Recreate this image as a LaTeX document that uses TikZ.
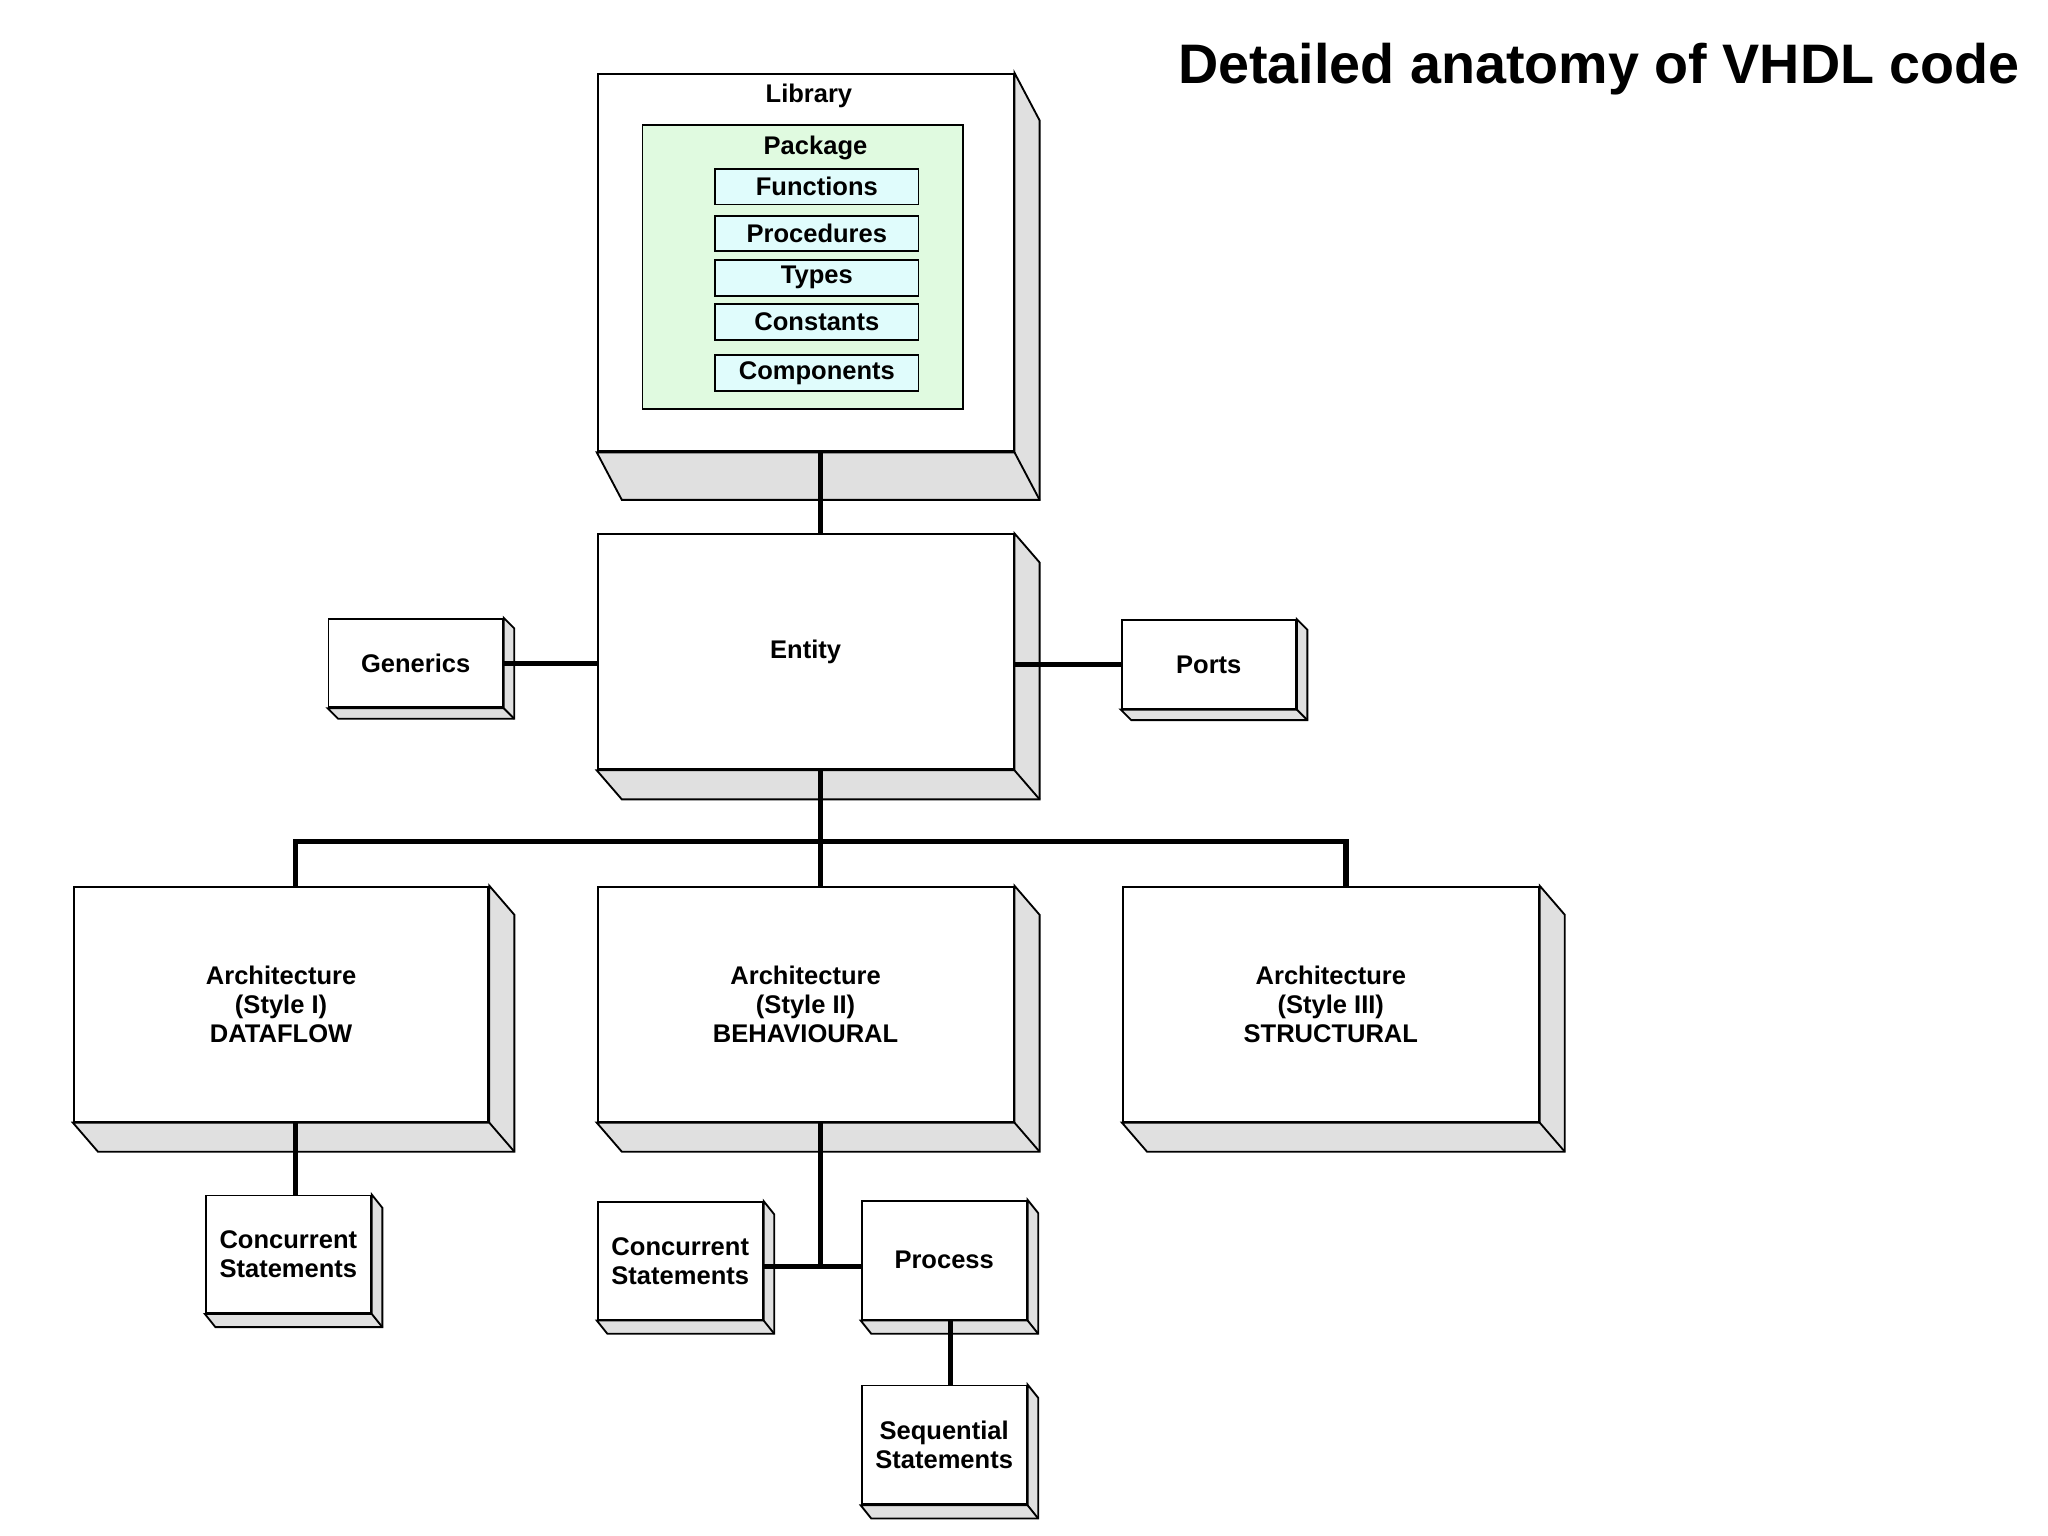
\documentclass[tikz,border=0pt]{standalone}
\usepackage{fontspec}
\setmainfont{Liberation Sans}
\usetikzlibrary{positioning}

\definecolor{sidegray}{RGB}{224,224,224}
\definecolor{pkggreen}{RGB}{224,250,224}
\definecolor{itemcyan}{RGB}{224,252,252}

% depth side of a block: node, dx, dy
\newcommand\blockside[3]{%
  \draw[fill=sidegray] (#1.north east) -- ([shift={(#2,#3)}]#1.north east)
    -- ([shift={(#2,#3)}]#1.south east) -- ([shift={(#2,#3)}]#1.south west)
    -- (#1.south west) -- (#1.south east) -- cycle;
  \draw (#1.south east) -- ([shift={(#2,#3)}]#1.south east);
}

\begin{document}
\begin{tikzpicture}[x=0.01cm, y=-0.01cm,
  font=\fontsize{5.5}{6.3}\selectfont\bfseries,
  block/.style={draw, fill=white, inner sep=0pt, align=center},
  item/.style={draw, fill=itemcyan, inner sep=0pt, minimum width=1.54cm, minimum height=0.27cm},
  link/.style={line width=1.1pt}]

\useasboundingbox (0,0) rectangle (1552,1164);

\node[anchor=north east, font=\fontsize{12}{14}\selectfont\bfseries] (title) at (1543,20) {Detailed anatomy of VHDL code};

% library and package
\node[block, minimum width=3.15cm, minimum height=2.86cm] (lib) at (610.5,199) {};
\blockside{lib}{19}{36}
\node (libtxt) at (613,73) {Library};
\node[draw, fill=pkggreen, minimum width=2.43cm, minimum height=2.15cm, inner sep=0pt] (pkg) at (608.5,202.5) {};
\node (pkgtxt) at (618,112) {Package};
\node[item] (fun) at (619,141.5) {Functions};
\node[item] (proc) at (619,177) {Procedures};
\node[item] (typ) at (619,210.5) {Types};
\node[item] (con) at (619,244) {Constants};
\node[item] (comp) at (619,282.5) {Components};

% entity
\node[block, minimum width=3.15cm, minimum height=1.78cm] (ent) at (610.5,494) {Entity};
\blockside{ent}{19}{22}
\node[block, minimum width=1.32cm, minimum height=0.67cm] (gen) at (315,502.5) {Generics};
\blockside{gen}{8}{8}
\node[block, minimum width=1.32cm, minimum height=0.67cm] (ports) at (916,503.5) {Ports};
\blockside{ports}{8}{8}

% architectures
\node[block, minimum width=3.14cm, minimum height=1.78cm] (arch1) at (213,761) {Architecture\\(Style I)\\DATAFLOW};
\blockside{arch1}{19}{22}
\node[block, minimum width=3.15cm, minimum height=1.78cm] (arch2) at (610.5,761) {Architecture\\(Style II)\\BEHAVIOURAL};
\blockside{arch2}{19}{22}
\node[block, minimum width=3.15cm, minimum height=1.78cm] (arch3) at (1008.5,761) {Architecture\\(Style III)\\STRUCTURAL};
\blockside{arch3}{19}{22}

% statements
\node[block, minimum width=1.25cm, minimum height=0.89cm] (conc1) at (218.5,950.5) {Concurrent\\Statements};
\blockside{conc1}{8}{10}
\node[block, minimum width=1.25cm, minimum height=0.89cm] (conc2) at (515.5,955.5) {Concurrent\\Statements};
\blockside{conc2}{8}{10}
\node[block, minimum width=1.25cm, minimum height=0.9cm] (proc2) at (715.5,955) {Process};
\blockside{proc2}{8}{10}
\node[block, minimum width=1.25cm, minimum height=0.9cm] (seq) at (715.5,1095) {Sequential\\Statements};
\blockside{seq}{8}{10}

\coordinate (bus) at (622,638);
\coordinate (split) at (622,960);

\draw[link] (lib.south -| bus) -- (ent.north -| bus);
\draw[link] (gen.east) -- (ent.west |- gen.east);
\draw[link] (ent.east |- ports.west) -- (ports.west);
\draw[link] (ent.south -| bus) -- (bus);
\draw[link] (arch1.north -| 224,0) |- (bus) -| (arch3.north -| 1020,0);
\draw[link] (bus) -- (arch2.north -| bus);
\draw[link] (arch1.south -| 224,0) -- (conc1.north -| 224,0);
\draw[link] (arch2.south -| bus) -- (split);
\draw[link] (conc2.east |- split) -- (proc2.west |- split);
\draw[link] (proc2.south -| 720,0) -- (seq.north -| 720,0);

\end{tikzpicture}
\end{document}
